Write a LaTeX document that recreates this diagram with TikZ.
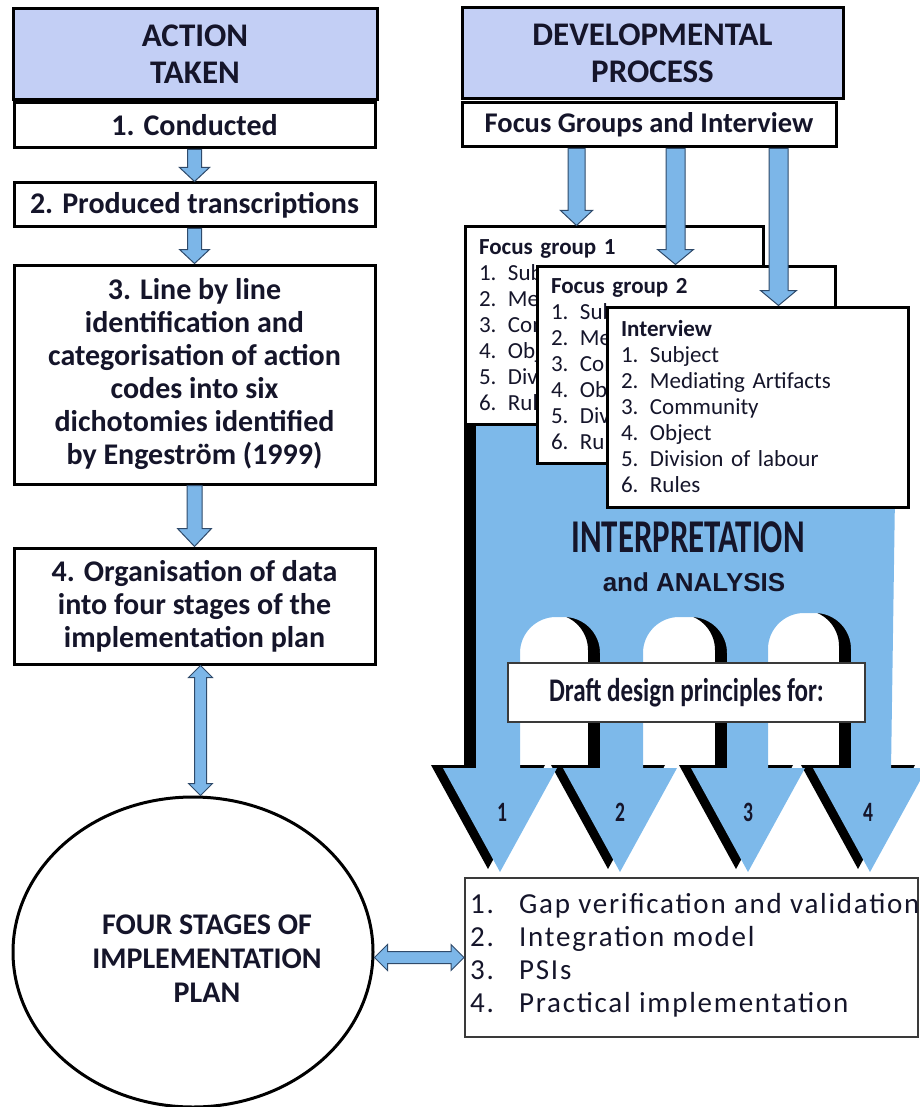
\documentclass[tikz,border=0pt]{standalone}
\usepackage{fontspec}
\setmainfont{Carlito}
\newfontfamily\arialfont{Liberation Sans}
\usepackage{graphicx}
\usetikzlibrary{shapes.geometric,calc}

\definecolor{hdrblue}{HTML}{C3CFF5}
\definecolor{arrowblue}{HTML}{7CB6E8}
\definecolor{arrowline}{HTML}{2F4A6A}
\definecolor{bigblue}{HTML}{7DB9EA}
\definecolor{boxgrey}{HTML}{3A3A3A}
\definecolor{ink}{HTML}{15152A}

\tikzset{
  header/.style={draw, line width=3pt, fill=hdrblue, minimum height=91pt, align=center, text=ink, font=\fontsize{33}{37}\selectfont\bfseries},
  stepbox/.style={draw, line width=3pt, fill=white, minimum width=361pt, align=center, text=ink, font=\fontsize{30}{33}\selectfont\bfseries},
  groupbox/.style={draw, line width=3pt, fill=white, text width=270pt, inner xsep=14pt, minimum height=197pt, align=left, text=ink, font=\fontsize{23}{26}\selectfont},
  fatarrow/.style={fill=arrowblue, draw=arrowline, line width=1pt, line join=miter},
}

% block arrow: from, to, shaft half width, head half width, head length
\newcommand{\fatarrow}[5]{%
  \coordinate (fa-h) at ($(#2)!#5!(#1)$);
  \draw[fatarrow] ($(#1)!#3!90:(#2)$) -- ($(fa-h)!#3!90:(#2)$) -- ($(fa-h)!#4!90:(#2)$) -- (#2)
    -- ($(fa-h)!#4!-90:(#2)$) -- ($(fa-h)!#3!-90:(#2)$) -- ($(#1)!#3!-90:(#2)$) -- cycle;}
\newcommand{\fatdarrow}[5]{%
  \coordinate (fa-h) at ($(#2)!#5!(#1)$);
  \coordinate (fa-t) at ($(#1)!#5!(#2)$);
  \draw[fatarrow] (#1) -- ($(fa-t)!#4!90:(#2)$) -- ($(fa-t)!#3!90:(#2)$) -- ($(fa-h)!#3!90:(#2)$)
    -- ($(fa-h)!#4!90:(#2)$) -- (#2) -- ($(fa-h)!#4!-90:(#2)$) -- ($(fa-h)!#3!-90:(#2)$)
    -- ($(fa-t)!#3!-90:(#2)$) -- ($(fa-t)!#4!-90:(#2)$) -- cycle;}

% the big arrow with its three arches and four heads
\newcommand{\interpshape}{
  (476,426) -- (896,426) -- (891,770) -- (851,770)
  -- (851,649) arc[start angle=0, end angle=90, radius=36pt] -- (804,613) arc[start angle=90, end angle=180, radius=36pt]
  -- (768,770) -- (727,770)
  -- (727,653) arc[start angle=0, end angle=90, radius=36pt] -- (679,617) arc[start angle=90, end angle=180, radius=36pt]
  -- (643,770) -- (600,770)
  -- (600,653) arc[start angle=0, end angle=90, radius=36pt] -- (556,617) arc[start angle=90, end angle=180, radius=36pt]
  -- (520,770) -- (476,770) -- cycle
  (443,768) -- (557,768) -- (500,872) -- cycle
  (563,768) -- (677,768) -- (620,872) -- cycle
  (691,768) -- (805,768) -- (748,872) -- cycle
  (813,768) -- (927,768) -- (870,872) -- cycle}

\begin{document}
\begin{tikzpicture}[x=1pt, y=-1pt]
  \useasboundingbox (0,0) rectangle (919,1107);

  % left column
  \node[header, minimum width=364pt] (act) at (195,54) {ACTION\\TAKEN};
  \node[stepbox, minimum height=45pt] (c1) at (194.5,125.5) {1. Conducted};
  \node[stepbox, minimum height=44pt] (c2) at (194.5,205) {2. Produced transcriptions};
  \node[stepbox, minimum height=219pt] (c3) at (194.5,374.5) {3. Line by line\\identification and\\categorisation of action\\codes into six\\dichotomies identified\\by Engeström (1999)};
  \node[stepbox, minimum height=116pt] (c4) at (194.5,606) {4. Organisation of data\\into four stages of the\\implementation plan};
  \node[ellipse, draw, line width=3pt, fill=white, minimum width=360pt, minimum height=310pt] (plan) at (193,952) {};
  \node[text=ink, align=center, font=\fontsize{30}{34}\selectfont\bfseries] (plantext) at ($(plan.center)+(14,7)$) {FOUR STAGES OF\\IMPLEMENTATION\\PLAN};

  \fatarrow{c1.south}{c2.north}{7pt}{15pt}{14pt}
  \fatarrow{c2.south}{c3.north}{7pt}{15pt}{14pt}
  \fatarrow{c3.south}{c4.north}{7.5pt}{17pt}{18pt}
  \coordinate (d1) at ($(c4.south)+(6,0)$);
  \coordinate (d2) at (d1 |- plan.north);
  \fatdarrow{d1}{d2}{6pt}{12pt}{12pt}

  % right column
  \node[header, minimum width=381pt] (dev) at (652.5,53.5) {DEVELOPMENTAL\\PROCESS};
  \node[stepbox, minimum width=374pt, minimum height=44pt, font=\fontsize{28.5}{30}\selectfont\bfseries] (focus) at (649,125) {Focus Groups and Interview};

  \fill[black, xshift=-12pt, yshift=3pt] \interpshape;
  \fill[bigblue] \interpshape;

  % stacked cards: only the left part of the two lower ones shows
  \node[groupbox] (fg1) at (614,325.5) {\textbf{Focus group 1}\\1. Sub\\2. Me\\3. Com\\4. Obj\\5. Div\\6. Rul};
  \node[groupbox] (fg2) at (686,364.5) {\textbf{Focus group 2}\\1. Sub\\2. Me\\3. Com\\4. Obj\\5. Div\\6. Rul};
  \node[groupbox, minimum height=200pt, text width=273pt] (intv) at (757.5,407) {\textbf{Interview}\\1. Subject\\2. Mediating Artifacts\\3. Community\\4. Object\\5. Division of labour\\6. Rules};

  \coordinate (a1) at ($(focus.south west)+(116,0)$);
  \coordinate (a2) at ($(focus.south west)+(215,0)$);
  \coordinate (a3) at ($(focus.south west)+(318,0)$);
  \fatarrow{a1}{a1 |- fg1.north}{8.5pt}{16pt}{15pt}
  \fatarrow{a2}{a2 |- fg2.north}{9.5pt}{18pt}{15pt}
  \fatarrow{a3}{a3 |- intv.north}{9.5pt}{18pt}{15pt}

  \node[text=ink, font=\fontsize{47}{50}\selectfont\bfseries] (interp) at (688,537) {\scalebox{0.7}[1]{INTERPRETATION}};
  \node[text=ink, font=\arialfont\bfseries\fontsize{26}{30}\selectfont] (analysis) at (694,582) {and ANALYSIS};
  \node[draw=boxgrey, line width=1.5pt, fill=white, minimum width=357pt, minimum height=59pt, text=ink, font=\fontsize{33}{36}\selectfont\bfseries] (draft) at (686.5,692.5) {\scalebox{0.76}[1]{Draft design principles for:}};
  \foreach \n/\x in {1/502,2/620,3/748,4/868}
    \node[text=ink, font=\fontsize{28}{30}\selectfont\bfseries] (num\n) at (\x,812) {\scalebox{0.7}[1]{\n}};

  % outcomes
  \node[draw=boxgrey, line width=2pt, fill=white, minimum width=453pt, minimum height=159pt] (stages) at (691.5,957.5) {};
  \node[anchor=west, align=left, inner sep=0pt, text=ink, font=\fontsize{29}{33}\selectfont\addfontfeatures{LetterSpace=6}] (stagestext) at ($(stages.west)+(6,-2)$)
    {\makebox[49pt][l]{1.}Gap verification and validation\\\makebox[49pt][l]{2.}Integration model\\\makebox[49pt][l]{3.}PSIs\\\makebox[49pt][l]{4.}Practical implementation};
  \coordinate (h2) at (stages.west);
  \coordinate (h1) at (plan.east |- h2);
  \fatdarrow{h1}{h2}{6pt}{13pt}{13pt}
\end{tikzpicture}
\end{document}
